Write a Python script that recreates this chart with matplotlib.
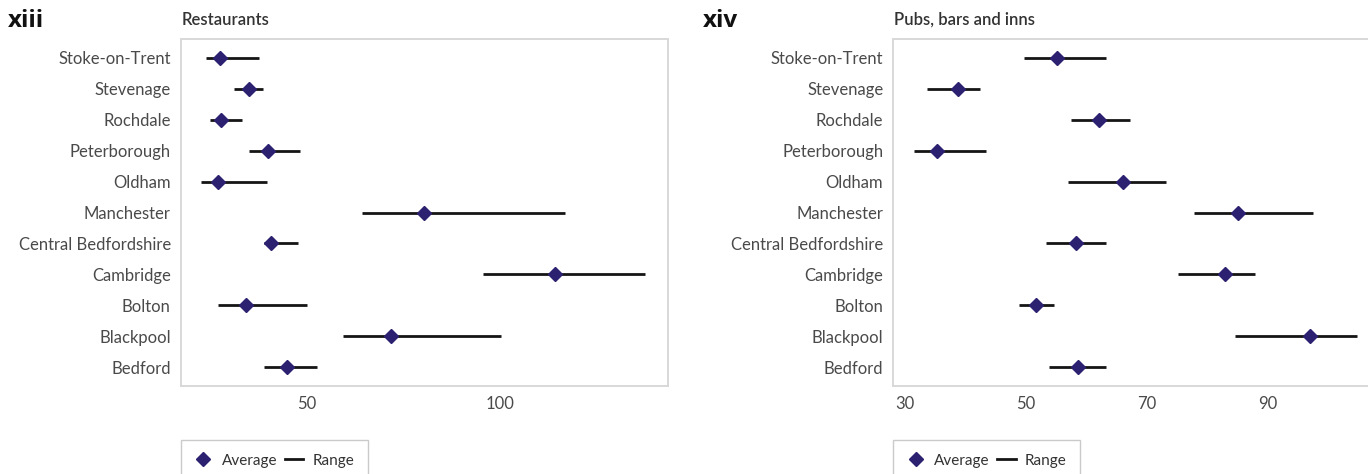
import matplotlib
matplotlib.use("Agg")
import matplotlib.pyplot as plt
from matplotlib.lines import Line2D

areas = ["Bedford", "Blackpool", "Bolton", "Cambridge", "Central Bedfordshire",
         "Manchester", "Oldham", "Peterborough", "Rochdale", "Stevenage", "Stoke-on-Trent"]

# Restaurants: average and min/max range
rest_avg = [44.9, 71.8, 34.2, 114.3, 40.7, 80.4, 27.0, 40.0, 27.9, 35.0, 27.6]
rest_low = [38.8, 59.4, 27.1, 95.6, 38.9, 64.2, 22.7, 35.0, 24.9, 31.2, 23.9]
rest_high = [52.6, 100.3, 50.1, 137.6, 47.8, 116.9, 39.7, 48.2, 33.1, 38.7, 37.6]
rest_ticks = [50, 100]

# Pubs, bars and inns: average and min/max range
pub_avg = [58.6, 97.0, 51.7, 82.9, 58.2, 85.1, 66.0, 35.2, 62.1, 38.7, 55.1]
pub_low = [53.8, 84.6, 48.9, 75.2, 53.3, 77.8, 56.9, 31.4, 57.4, 33.6, 49.6]
pub_high = [63.3, 104.7, 54.6, 87.9, 63.3, 97.4, 73.1, 43.4, 67.2, 42.4, 63.3]
pub_ticks = [30, 50, 70, 90]

DIAMOND = "#2b2170"
LINE = "#151515"
FRAME = "#d8d8d8"
TEXT = "#4a4a4a"

plt.rcParams["font.family"] = ["Lato", "DejaVu Sans"]

W, H = 1368, 474
fig = plt.figure(figsize=(W / 100, H / 100), dpi=100)


def panel(left_px, right_px, avg, low, high, ticks, xlim, title, tag, tag_x, show_right=True):
    ax = fig.add_axes([left_px / W, 1 - 386 / H, (right_px - left_px) / W, (386 - 39) / H])
    y = list(range(len(areas)))
    ax.hlines(y, low, high, color=LINE, lw=2.0, zorder=2)
    ax.plot(avg, y, "D", color=DIAMOND, ms=7.5, zorder=3, lw=0)
    ax.set_yticks(y)
    ax.set_yticklabels(areas)
    ax.set_xticks(ticks)
    ax.set_xticklabels([str(t) for t in ticks])
    ax.set_xlim(*xlim)
    ax.set_ylim(-0.6, len(areas) - 0.4)
    ax.tick_params(length=0, labelsize=12, colors=TEXT, pad=7)
    for s in ax.spines.values():
        s.set_color(FRAME)
        s.set_linewidth(1.4)
    ax.spines["right"].set_visible(show_right)
    fig.text((left_px + 1) / W, 1 - 20 / H, title, fontsize=12, fontweight="semibold",
             color="#333333", va="center", ha="left")
    fig.text(tag_x / W, 1 - 21 / H, tag, fontsize=17.5, fontweight="bold",
             color="#111111", va="center", ha="left",
             family=["Open Sans", "DejaVu Sans"])
    handles = [Line2D([], [], marker="D", ls="none", color=DIAMOND, ms=7),
               Line2D([], [], color=LINE, lw=2.0)]
    fig.legend(handles, ["Average", "Range"], loc="upper left",
               bbox_to_anchor=(left_px / W, 1 - 440 / H), ncol=2, frameon=True,
               fancybox=False, edgecolor="#bdbdbd", fontsize=11, handlelength=1.2,
               handletextpad=0.6, columnspacing=0.5, borderpad=0.9, borderaxespad=0,
               labelcolor="#333333")
    return ax


panel(180.5, 668, rest_avg, rest_low, rest_high, rest_ticks, (17.3, 143.5),
      "Restaurants", "xiii", 8)
panel(893, 1376, pub_avg, pub_low, pub_high, pub_ticks, (28.0, 107.9),
      "Pubs, bars and inns", "xiv", 703, show_right=False)

fig.savefig("out.png", dpi=100)
